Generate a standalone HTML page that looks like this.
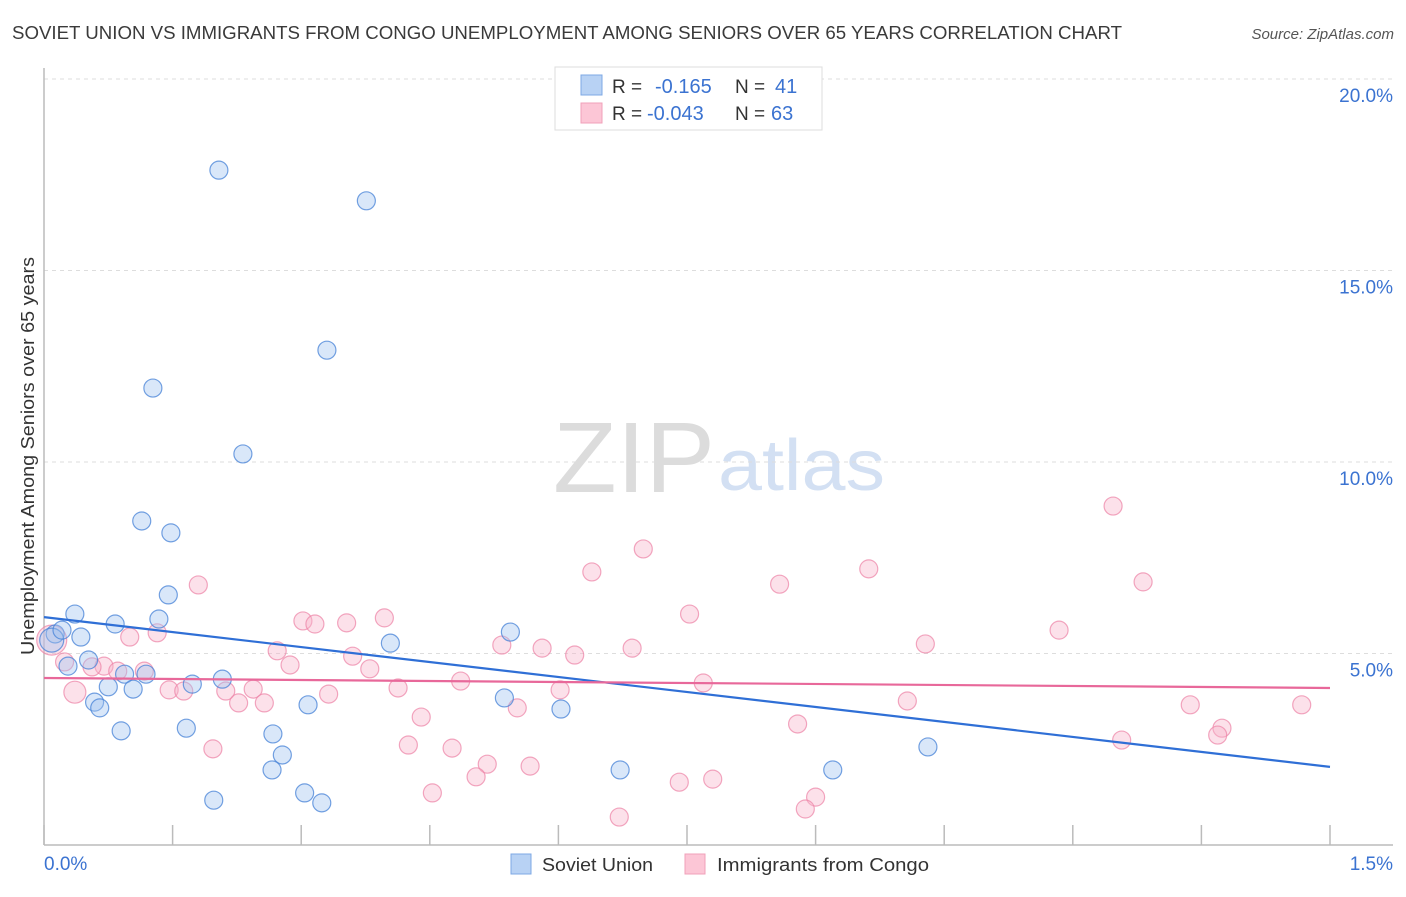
<!DOCTYPE html>
<html><head><meta charset="utf-8"><style>
body{margin:0;background:#fff;font-family:"Liberation Sans",sans-serif}
svg text{font-family:"Liberation Sans",sans-serif}
</style></head><body>
<svg width="1406" height="892" xmlns="http://www.w3.org/2000/svg" id="chart">
<text x="12" y="39" font-size="18" fill="#3a3a3a" textLength="1110" lengthAdjust="spacingAndGlyphs">SOVIET UNION VS IMMIGRANTS FROM CONGO UNEMPLOYMENT AMONG SENIORS OVER 65 YEARS CORRELATION CHART</text>
<text x="1394" y="39" font-size="15" fill="#555" font-style="italic" text-anchor="end">Source: ZipAtlas.com</text>
<text x="553" y="492" font-size="100" font-family="Liberation Serif,serif" fill="#dcdcdc" textLength="162" lengthAdjust="spacingAndGlyphs">ZIP</text>
<text x="718" y="490" font-size="72" fill="#d3e0f3" textLength="167" lengthAdjust="spacingAndGlyphs">atlas</text>
<text transform="translate(34,456) rotate(-90)" font-size="18" fill="#333" text-anchor="middle" textLength="398" lengthAdjust="spacingAndGlyphs">Unemployment Among Seniors over 65 years</text>
<g id="grid"></g><g id="marks"></g>
<g>
<rect x="555" y="67" width="267" height="63" fill="#fff" stroke="#ddd"/>
<rect x="581" y="75" width="21" height="20" fill="#b8d2f4" stroke="#7ea8e4"/>
<rect x="581" y="103" width="21" height="20" fill="#fcc6d6" stroke="#f0a0b9"/>
<text x="612" y="93" font-size="19" fill="#333">R = </text><text x="655" y="93" font-size="20" fill="#3b73d1">-0.165</text>
<text x="735" y="93" font-size="19" fill="#333">N = </text><text x="775" y="93" font-size="20" fill="#3b73d1">41</text>
<text x="612" y="120" font-size="19" fill="#333">R = </text><text x="647" y="120" font-size="20" fill="#3b73d1">-0.043</text>
<text x="735" y="120" font-size="19" fill="#333">N = </text><text x="771" y="120" font-size="20" fill="#3b73d1">63</text>
</g>
<g>
<rect x="511" y="854" width="20" height="20" fill="#b8d2f4" stroke="#7ea8e4"/>
<text x="542" y="871" font-size="18" fill="#333" textLength="111" lengthAdjust="spacingAndGlyphs">Soviet Union</text>
<rect x="685" y="854" width="20" height="20" fill="#fcc6d6" stroke="#f0a0b9"/>
<text x="717" y="871" font-size="18" fill="#333" textLength="212" lengthAdjust="spacingAndGlyphs">Immigrants from Congo</text>
</g>
</svg>
<script>
const yTicks=[5,10,15,20];
const yTickLabels=["5.0%","10.0%","15.0%","20.0%"];
const xTickLabels=["0.0%","1.5%"];
const blueX=[0.204,0.376,0.330,0.127,0.232,0.114,0.148,0.145,0.036,0.134,0.083,0.013,0.043,0.404,0.544,0.052,0.028,0.094,0.119,0.208,0.173,0.075,0.104,0.059,0.065,0.308,0.537,0.603,0.090,0.166,0.267,0.278,0.266,0.672,0.920,1.031,0.198,0.304,0.324,0.009,0.021];
const blueY=[17.62,16.82,12.92,11.93,10.21,8.46,8.15,6.53,6.03,5.90,5.77,5.51,5.43,5.27,5.56,4.83,4.67,4.46,4.46,4.33,4.20,4.13,4.07,3.73,3.58,3.66,3.84,3.55,2.98,3.05,2.90,2.35,1.96,1.96,1.96,2.56,1.17,1.36,1.10,5.35,5.61];
const blueSize=[9,9,9,9,9,9,9,9,9,9,9,9,9,9,9,9,9,9,9,9,9,9,9,9,9,9,9,9,9,9,9,9,9,9,9,9,9,9,9,12,9];
const pinkX=[0.009,0.699,1.247,0.639,0.858,0.962,1.282,0.180,0.753,0.302,0.316,0.353,0.397,0.132,0.100,1.184,0.534,0.581,0.619,0.686,1.028,0.272,0.360,0.287,0.380,0.070,0.086,0.117,0.024,0.056,0.486,0.769,0.036,0.146,0.163,0.212,0.244,0.332,0.413,0.602,0.227,0.257,0.552,1.007,1.337,1.467,0.440,0.879,1.374,1.369,1.257,0.425,0.476,0.197,0.517,0.567,0.504,0.741,0.780,0.453,0.900,0.888,0.671];
const pinkY=[5.35,7.73,8.85,7.13,6.81,7.21,6.87,6.79,6.03,5.85,5.77,5.80,5.93,5.54,5.43,5.61,5.22,5.14,4.96,5.14,5.25,5.07,4.93,4.70,4.60,4.67,4.54,4.54,4.78,4.65,4.28,4.23,3.99,4.05,4.02,4.02,4.07,3.94,4.10,4.05,3.71,3.71,3.58,3.76,3.66,3.66,3.34,3.16,3.05,2.87,2.74,2.61,2.53,2.51,2.11,2.06,1.78,1.64,1.72,1.36,1.25,0.94,0.73];
const pinkSize=[15,9,9,9,9,9,9,9,9,9,9,9,9,9,9,9,9,9,9,9,9,9,9,9,9,9,9,9,9,9,9,9,11,9,9,9,9,9,9,9,9,9,9,9,9,9,9,9,9,9,9,9,9,9,9,9,9,9,9,9,9,9,9];
const blueTrend=[5.95,2.04];
const pinkTrend=[4.36,4.10];
const trendX=[0,1.5];

const X0=44,X1=1330,Y0=845,PX=191.5/5;
const sx=v=>X0+(X1-X0)*v/1.5, sy=v=>Y0-v*PX;
const NS="http://www.w3.org/2000/svg";
function mk(t,a,p){const e=document.createElementNS(NS,t);for(const k in a)e.setAttribute(k,a[k]);p.appendChild(e);return e;}
const grid=document.getElementById('grid'),marks=document.getElementById('marks');
mk('line',{x1:X0,y1:79,x2:1393,y2:79,stroke:'#ddd','stroke-dasharray':'4,4'},grid);
yTicks.forEach((t,i)=>{
  const g=mk('line',{x1:X0,y1:sy(t),x2:1393,y2:sy(t),stroke:'#ddd','stroke-dasharray':'4,4'},grid);
  
  
  const l=mk('text',{x:1393,y:sy(t)+23,'font-size':19,fill:'#3b73d1','text-anchor':'end'},grid);
  l.textContent=yTickLabels[i];
  
  
});
mk('line',{x1:X0,y1:68,x2:X0,y2:Y0,stroke:'#bbb','stroke-width':1.5},grid);
mk('line',{x1:X0,y1:Y0,x2:1393,y2:Y0,stroke:'#bbb','stroke-width':1.5},grid);
for(let i=0;i<=10;i++){
  const tk=mk('line',{x1:sx(i*0.15),y1:825,x2:sx(i*0.15),y2:Y0,stroke:'#bbb','stroke-width':1.5},grid);
  
  
}
const xl0=mk('text',{x:44,y:870,'font-size':19,fill:'#3b73d1'},grid);xl0.textContent=xTickLabels[0];


const xl1=mk('text',{x:1393,y:870,'font-size':19,fill:'#3b73d1','text-anchor':'end'},grid);xl1.textContent=xTickLabels[1];


pinkX.forEach((x,i)=>{
  const c=mk('circle',{cx:sx(x),cy:sy(pinkY[i]),r:pinkSize[i],fill:'rgba(248,180,202,0.4)',stroke:'rgba(236,130,165,0.7)','stroke-width':1.2},marks);
  
  
});
blueX.forEach((x,i)=>{
  const c=mk('circle',{cx:sx(x),cy:sy(blueY[i]),r:blueSize[i],fill:'rgba(160,195,240,0.4)',stroke:'rgba(70,130,215,0.75)','stroke-width':1.2},marks);
  
  
});
const bl=mk('line',{x1:sx(trendX[0]),y1:sy(blueTrend[0]),x2:sx(trendX[1]),y2:sy(blueTrend[1]),stroke:'#2f6fd6','stroke-width':2.2},marks);


const pl=mk('line',{x1:sx(trendX[0]),y1:sy(pinkTrend[0]),x2:sx(trendX[1]),y2:sy(pinkTrend[1]),stroke:'#e8689a','stroke-width':2.2},marks);


</script>
</body></html>
